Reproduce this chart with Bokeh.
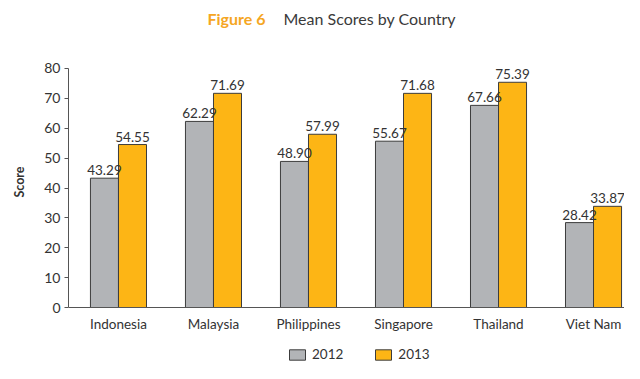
from bokeh.plotting import figure
from bokeh.models import FixedTicker, Legend, LegendItem, ColumnDataSource, Span
from bokeh.core.properties import value
from bokeh.embed import file_html
from bokeh.resources import INLINE

countries = ["Indonesia", "Malaysia", "Philippines", "Singapore", "Thailand", "Viet Nam"]
scores_2012 = [43.29, 62.29, 48.90, 55.67, 67.66, 28.42]
scores_2013 = [54.55, 71.69, 57.99, 71.68, 75.39, 33.87]
series_names = ["2012", "2013"]
y_ticks = [0, 10, 20, 30, 40, 50, 60, 70, 80]
title_parts = ["Figure 6", "Mean Scores by Country"]

FONT = "Lato"
GRAY = "#b2b4b7"
ORANGE = "#fdb515"
EDGE = "#3c3c3c"
TEXT = "#333333"

idx = list(range(len(countries)))
bw = 0.295
src12 = ColumnDataSource(dict(x=[i - bw / 2 for i in idx], v=scores_2012,
                              lab=["%.2f" % s for s in scores_2012]))
src13 = ColumnDataSource(dict(x=[i + bw / 2 for i in idx], v=scores_2013,
                              lab=["%.2f" % s for s in scores_2013]))
src_cat = ColumnDataSource(dict(x=idx, y=[0] * len(idx), name=countries))

# frame spans the whole height; the y axis is bounded to 0..80
p = figure(width=624, height=363, output_backend="svg", toolbar_location=None,
           x_range=(-0.526, 5.326), y_range=(-18.74, 102.76), x_axis_location=None,
           min_border_left=68, min_border_right=0, min_border_top=0, min_border_bottom=0)
p.outline_line_color = None
p.grid.visible = False

r12 = p.vbar(x="x", top="v", width=bw, source=src12, fill_color=GRAY, line_color=EDGE, line_width=1)
r13 = p.vbar(x="x", top="v", width=bw, source=src13, fill_color=ORANGE, line_color=EDGE, line_width=1)

for s in (src12, src13):
    p.text(x="x", y="v", text="lab", source=s, text_align="center", text_baseline="bottom",
           y_offset=-3, text_font=value(FONT), text_font_size="13.5px", text_color=TEXT)

# category axis: baseline and category names
p.add_layout(Span(location=0, dimension="width", line_color="#555555", line_width=1))
p.text(x="x", y="y", text="name", source=src_cat, text_align="center", text_baseline="middle",
       y_offset=16, text_font=value(FONT), text_font_size="13.5px", text_color=TEXT)

# title (two colours)
p.text(x=[0.937], y=[96.7], text=[title_parts[0]], text_font=value(FONT), text_font_style="bold",
       text_font_size="16px", text_color="#f5a623", text_baseline="middle")
p.text(x=[1.737], y=[96.7], text=[title_parts[1]], text_font=value(FONT),
       text_font_size="16px", text_color="#3a3a3a", text_baseline="middle")

p.yaxis.ticker = FixedTicker(ticks=y_ticks)
p.yaxis.bounds = (0, 80)
p.yaxis.major_tick_out = 4
p.yaxis.major_tick_in = 0
p.yaxis.minor_tick_line_color = None
p.yaxis.axis_line_color = "#555555"
p.yaxis.major_tick_line_color = "#555555"
p.yaxis.major_label_text_font = FONT
p.yaxis.major_label_text_font_size = "14px"
p.yaxis.major_label_text_color = TEXT
p.yaxis.major_label_standoff = 4
p.yaxis.axis_label = "Score"
p.yaxis.axis_label_text_font = FONT
p.yaxis.axis_label_text_font_style = "bold"
p.yaxis.axis_label_text_font_size = "12.5px"
p.yaxis.axis_label_text_color = TEXT
p.yaxis.axis_label_standoff = 14

legend = Legend(items=[LegendItem(label=series_names[0], renderers=[r12]),
                       LegendItem(label=series_names[1], renderers=[r13])],
                orientation="horizontal", location=(219, 1),
                glyph_width=20, glyph_height=13, label_standoff=5, spacing=30,
                label_text_font=FONT, label_text_font_size="13.5px", label_text_color=TEXT,
                border_line_color=None, background_fill_alpha=0, padding=0, margin=0)
p.add_layout(legend, "center")

open("out.html", "w").write(file_html(p, INLINE))
